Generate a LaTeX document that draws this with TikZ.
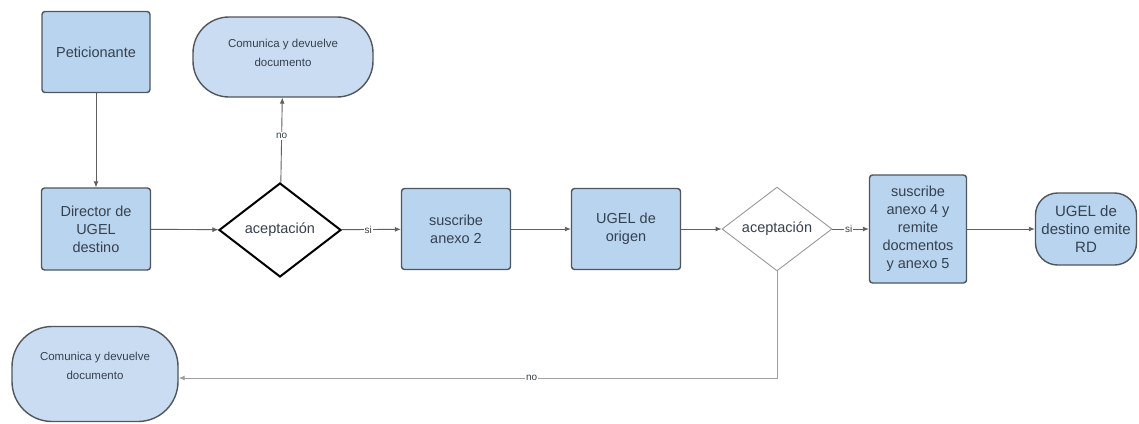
\documentclass[tikz,border=0pt]{standalone}
\usepackage{fontspec}
\setmainfont{Liberation Sans}
\usetikzlibrary{shapes.geometric,arrows.meta}
\definecolor{boxfill}{RGB}{184,212,238}
\definecolor{palefill}{RGB}{201,220,241}
\definecolor{edgegray}{RGB}{80,86,92}
\definecolor{linegray}{RGB}{95,95,95}
\definecolor{txt}{RGB}{55,65,78}
\newsavebox\uptextbox
\newcommand{\uptext}[2]{\sbox\uptextbox{\begin{tabular}{@{}c@{}}#2\end{tabular}}%
  \raisebox{#1}[\ht\uptextbox][\dp\uptextbox]{\usebox\uptextbox}}
\tikzset{
  procbox/.style={draw=edgegray,line width=1.4pt,fill=boxfill,rounded corners=3pt,
    align=center,font=\fontsize{14.5}{18}\selectfont,text=txt,inner sep=1pt},
  termbox/.style={draw=edgegray,line width=1.4pt,fill=palefill,align=center,
    font=\fontsize{11.5}{19}\selectfont,text=txt,inner sep=1pt},
  decide/.style={diamond,draw,fill=white,inner sep=0pt,align=center,text=txt},
  flow/.style={draw=linegray,line width=0.9pt,-{Latex[length=6pt,width=5pt]}},
  lbl/.style={fill=white,inner sep=1pt,font=\fontsize{10}{11}\selectfont,text=txt}
}
\begin{document}
\begin{tikzpicture}[x=1pt,y=-1pt]
\useasboundingbox (0,0) rectangle (1139,423);
\node[procbox,minimum width=108pt,minimum height=81pt] (pet) at (96,52) {Peticionante};
\node[termbox,minimum width=180pt,minimum height=80pt,rounded corners=36pt] (com1) at (283,57)
  {\uptext{4pt}{Comunica y devuelve\\documento}};
\node[procbox,minimum width=109pt,minimum height=82pt] (dir) at (96,229) {Director de\\UGEL\\destino};
\node[decide,draw=black,line width=2pt,minimum width=122pt,minimum height=94pt,font=\fontsize{14.5}{16}\selectfont] (d1) at (280,230) {aceptación};
\node[procbox,minimum width=109pt,minimum height=81pt] (sus2) at (456,229) {suscribe\\anexo 2};
\node[procbox,minimum width=109pt,minimum height=81pt] (orig) at (626,229) {UGEL de\\origen};
\node[decide,draw=gray!80,line width=0.9pt,minimum width=110pt,minimum height=82pt,font=\fontsize{14.5}{16}\selectfont] (d2) at (777,229) {aceptación};
\node[procbox,minimum width=97pt,minimum height=108pt] (sus4) at (918,229) {suscribe\\anexo 4 y\\remite\\docmentos\\y anexo 5};
\node[termbox,fill=boxfill,minimum width=101pt,minimum height=72pt,rounded corners=22pt,font=\fontsize{15}{18}\selectfont] (rd) at (1086,229) {UGEL de\\destino emite\\RD};
\node[termbox,minimum width=166pt,minimum height=95pt,rounded corners=40pt] (com2) at (95,374)
  {\uptext{8pt}{Comunica y devuelve\\documento}};

\draw[flow] (pet) -- (dir);
\draw[flow] (dir) -- (d1);
\draw[flow] (d1) -- node[lbl,pos=0.55]{no} (com1);
\draw[flow] (d1) -- node[lbl,pos=0.45]{si} (sus2);
\draw[flow] (sus2) -- (orig);
\draw[flow] (orig) -- (d2);
\draw[flow] (d2) -- node[lbl,pos=0.45]{si} (sus4);
\draw[flow] (sus4) -- (rd);
\coordinate (corner) at (777,378);
\draw[flow,draw=gray!75] (d2.south) -- (corner) -- node[lbl,pos=0.41]{no} (com2.east|-corner);
\end{tikzpicture}
\end{document}
